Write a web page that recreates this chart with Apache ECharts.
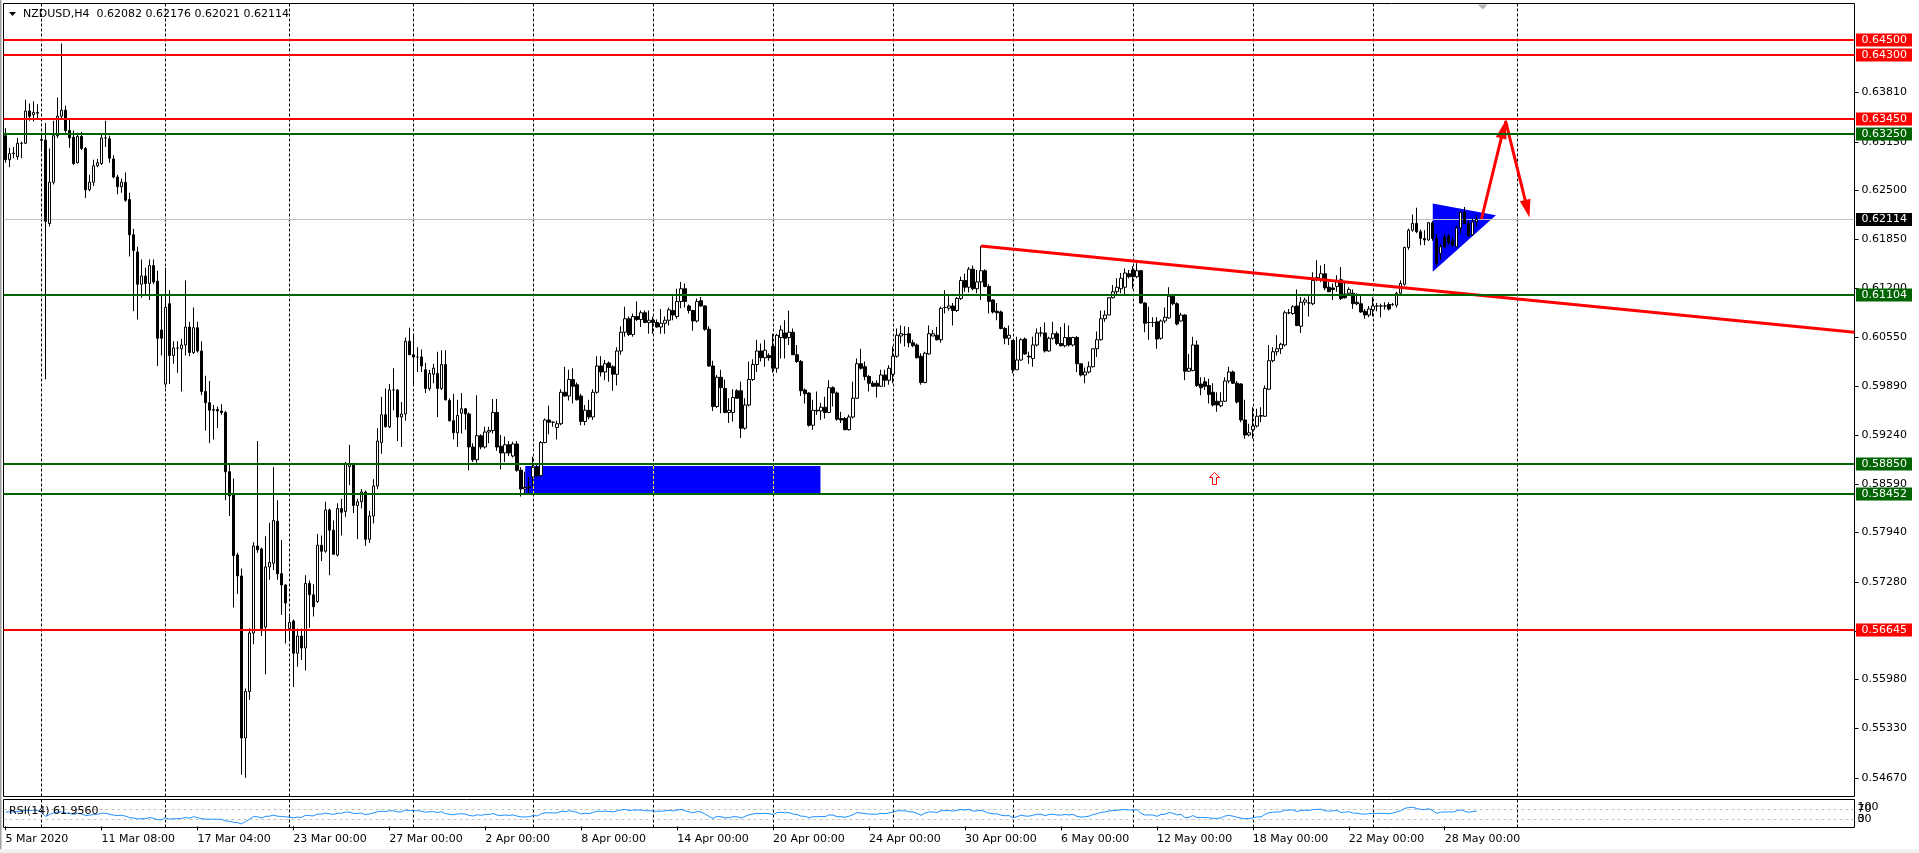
<!DOCTYPE html>
<html><head><meta charset="utf-8"><title>NZDUSD,H4</title>
<script src="https://cdn.jsdelivr.net/npm/echarts@6/dist/echarts.min.js"></script>
<style>html,body{margin:0;padding:0;background:#fff;overflow:hidden}#chart{width:1919px;height:853px}</style>
</head><body><div id="chart"></div>
<script>
// ---------------- data (prices in 1e-4 units) ----------------
const symbolName = 'NZDUSD,H4';
const openP = [
6323,6291,6299,6295,6313,6313,6356,6351,6354,6318,6317,6206,6261,6323,6349,6357,6330,6321,6287,6322,
6306,6251,6261,6283,6286,6320,6319,6292,6268,6255,6261,6238,6191,6168,6125,6136,6126,6150,6129,6064,
5992,6099,6030,6040,6039,6044,6068,6034,6067,6036,5982,5967,5957,5958,5956,5954,5875,5844,5764,5736,
5520,5582,5660,5776,5772,5668,5748,5753,5809,5739,5724,5666,5676,5633,5656,5640,5726,5711,5702,5777,
5769,5824,5797,5764,5826,5822,5882,5885,5830,5835,5848,5785,5816,5856,5914,5951,5935,5984,5984,5948,
5952,6049,6031,6028,6028,6011,5986,6005,6006,5986,6018,5970,5943,5927,5953,5959,5952,5908,5891,5923,
5908,5928,5930,5954,5909,5900,5911,5896,5912,5877,5852,5854,5868,5881,5870,5914,5944,5941,5934,5939,
5981,5976,5998,5991,5976,5942,5957,5948,5981,6016,6008,6020,6015,6005,6036,6061,6079,6058,6082,6078,
6087,6074,6077,6074,6068,6073,6077,6090,6082,6102,6119,6096,6090,6076,6103,6096,6065,6016,5962,6001,
5986,5954,5954,5983,5983,5933,5964,5998,6018,6036,6027,6030,6042,6013,6054,6060,6054,6061,6031,6022,
5984,5980,5937,5957,5956,5961,5954,5987,5980,5946,5946,5931,5948,5973,6019,6015,6002,5993,5993,5989,
6004,5997,6005,6029,6056,6058,6059,6047,6044,6029,5994,6032,6056,6057,6051,6094,6093,6096,6090,6106,
6130,6121,6145,6119,6128,6143,6122,6104,6089,6088,6066,6053,6050,6011,6024,6052,6029,6026,6044,6060,
6060,6036,6053,6059,6046,6043,6054,6044,6054,6019,6004,6008,6015,6039,6051,6079,6084,6107,6115,6119,
6121,6139,6144,6135,6143,6100,6074,6074,6075,6053,6076,6080,6109,6099,6076,6084,6009,6010,6044,5992,
5995,5990,5981,5969,5963,5969,5996,6008,5993,5992,5944,5924,5931,5936,5949,5949,5985,6023,6035,6039,
6044,6087,6086,6096,6069,6101,6100,6099,6134,6132,6139,6121,6120,6122,6131,6112,6113,6113,6101,6099,
6089,6084,6091,6096,6096,6096,6098,6098,6097,6113,6125,6174,6197,6206,6195,6186,6184,6207,6186,6166,
6188,6189,6183,6175,6200,6221,6206,6191,6208.2];
const highP = [
6333,6307,6308,6320,6315,6371,6366,6369,6365,6327,6340,6306,6343,6374,6446,6363,6346,6330,6327,6328,
6308,6271,6291,6292,6325,6343,6323,6297,6271,6266,6274,6247,6199,6175,6158,6147,6158,6158,6143,6111,
6147,6117,6049,6049,6052,6130,6075,6094,6075,6049,6003,5996,5964,5962,5965,5956,5885,5866,5767,5746,
5586,5666,5781,5916,5774,5789,5807,5881,5837,5784,5725,5682,5678,5666,5666,5737,5730,5725,5792,5790,
5835,5826,5810,5833,5839,5888,5911,5887,5839,5852,5850,5823,5865,5933,5975,5986,5992,6013,5985,5968,
6054,6067,6059,6041,6038,6020,6011,6019,6035,6037,6037,5973,5979,5971,5980,5960,5954,5913,5977,5925,
5935,5935,5972,5972,5924,5922,5916,5915,5916,5881,5875,5868,5895,5886,5916,5946,5963,5942,5943,5985,
6015,6011,6013,5994,5979,5964,5971,5985,6029,6029,6024,6022,6017,6041,6069,6095,6082,6086,6102,6090,
6090,6090,6082,6078,6092,6082,6094,6109,6119,6128,6126,6098,6091,6106,6108,6097,6069,6023,6004,6011,
5998,5973,5985,5985,5995,5973,6022,6025,6051,6046,6051,6033,6059,6059,6070,6077,6090,6066,6044,6024,
5986,5981,5971,5982,5967,5975,5997,5989,5982,5955,5948,5951,5995,6026,6039,6022,6004,5996,5997,6011,
6011,6017,6042,6066,6070,6069,6068,6051,6046,6033,6035,6070,6064,6068,6095,6117,6109,6100,6108,6135,
6139,6148,6150,6144,6176,6145,6125,6105,6100,6090,6068,6070,6051,6055,6053,6054,6035,6055,6066,6068,
6074,6055,6075,6062,6068,6073,6070,6055,6056,6019,6014,6022,6039,6062,6090,6090,6108,6124,6133,6140,
6146,6144,6149,6153,6144,6101,6095,6081,6081,6078,6094,6121,6112,6101,6087,6085,6032,6055,6050,6001,
6001,5999,5993,5981,5981,6001,6015,6010,5996,5993,5971,5939,5961,5959,5961,5990,6044,6041,6057,6047,
6090,6092,6097,6118,6108,6107,6109,6141,6157,6150,6152,6128,6126,6137,6148,6128,6121,6118,6113,6110,
6092,6096,6108,6100,6099,6101,6101,6100,6115,6130,6175,6199,6218,6227,6198,6197,6208,6209,6192,6179,
6192,6192,6188,6203,6223,6228,6210,6212,6217.6];
const lowP = [
6287,6281,6293,6291,6293,6312,6343,6342,6346,6304,5998,6202,6258,6320,6346,6327,6307,6284,6286,6304,
6240,6249,6256,6281,6284,6308,6287,6266,6245,6247,6235,6162,6089,6078,6107,6111,6104,6125,6016,6030,
5987,5992,6019,6007,5982,6030,6029,6032,6034,5977,5930,5913,5918,5933,5951,5837,5816,5694,5712,5471,
5467,5571,5645,5767,5656,5605,5731,5744,5731,5684,5646,5650,5588,5615,5624,5610,5667,5682,5700,5756,
5767,5737,5764,5762,5790,5815,5857,5820,5785,5826,5776,5780,5806,5852,5899,5934,5933,5957,5916,5908,
5943,6031,5992,6008,6008,5980,5983,5993,5948,5984,5970,5942,5918,5908,5926,5931,5877,5888,5887,5905,
5906,5913,5926,5903,5878,5888,5896,5894,5875,5842,5846,5844,5855,5868,5868,5913,5925,5935,5918,5937,
5975,5970,5966,5970,5937,5937,5945,5944,5979,6002,5997,5995,5983,5990,6031,6055,6056,6055,6076,6068,
6073,6059,6059,6067,6059,6059,6070,6077,6079,6093,6094,6086,6063,6074,6095,6063,6015,5956,5960,5953,
5953,5940,5942,5972,5920,5931,5962,5996,6008,6022,6015,6023,6007,6007,6026,6026,6044,6031,6020,5976,
5966,5935,5931,5951,5944,5946,5953,5962,5943,5940,5931,5930,5946,5972,6011,5997,5982,5988,5974,5988,
5988,5991,5993,6027,6046,6042,6041,6041,6026,5991,5993,6031,6056,6050,6047,6086,6090,6070,6088,6104,
6115,6114,6117,6113,6104,6121,6086,6086,6077,6065,6045,6044,6006,6011,6023,6031,6019,6015,6042,6055,
6034,6035,6051,6044,6042,6041,6042,6042,6008,6002,5993,6006,6014,6028,6050,6075,6084,6106,6112,6113,
6112,6133,6119,6133,6099,6061,6051,6068,6039,6051,6073,6079,6097,6070,6075,5997,6008,6009,5988,5977,
5984,5966,5962,5955,5961,5968,5993,5992,5966,5941,5919,5922,5919,5934,5941,5948,5984,6021,6030,6032,
6042,6085,6084,6069,6060,6097,6082,6097,6129,6128,6117,6115,6104,6115,6104,6106,6112,6092,6097,6087,
6079,6081,6082,6089,6081,6091,6090,6096,6094,6112,6123,6171,6195,6193,6177,6177,6183,6183,6149,6157,
6174,6177,6175,6174,6192,6205,6188,6190,6202.1];
const closeP = [
6291,6299,6300,6313,6313,6356,6349,6354,6353,6317,6209,6261,6323,6349,6357,6330,6320,6286,6322,6306,
6251,6261,6283,6287,6320,6320,6293,6268,6255,6261,6237,6191,6170,6125,6136,6126,6150,6128,6053,6053,
6094,6030,6040,6040,6044,6068,6034,6067,6036,5982,5967,5957,5958,5956,5954,5875,5843,5763,5736,5520,
5582,5660,5776,5771,5666,5748,5754,5810,5739,5724,5700,5674,5633,5656,5640,5726,5711,5695,5777,5769,
5824,5797,5765,5826,5821,5885,5885,5830,5835,5848,5785,5816,5856,5916,5951,5935,5984,5984,5948,5952,
6049,6031,6028,6028,6016,5986,6006,6013,5986,6018,5971,5943,5927,5950,5959,5952,5908,5891,5923,5908,
5928,5930,5954,5908,5900,5911,5900,5912,5877,5852,5854,5855,5881,5870,5914,5944,5941,5941,5939,5981,
5976,5998,5989,5971,5942,5957,5948,5981,6016,6008,6019,6014,6005,6036,6061,6079,6058,6082,6078,6087,
6074,6077,6074,6068,6073,6077,6091,6084,6102,6119,6102,6090,6076,6102,6096,6065,6016,5962,6001,5987,
5954,5957,5974,5973,5933,5964,5998,6018,6036,6027,6037,6027,6013,6057,6064,6053,6061,6031,6022,5983,
5979,5937,5957,5956,5961,5954,5987,5980,5945,5944,5931,5948,5973,6019,6013,6002,5993,5989,5989,6004,
5997,6013,6029,6057,6059,6058,6047,6043,6027,5994,6033,6059,6059,6051,6093,6094,6096,6090,6106,6130,
6121,6145,6119,6128,6143,6122,6102,6088,6087,6066,6053,6057,6011,6024,6051,6032,6028,6044,6060,6060,
6036,6053,6059,6046,6043,6054,6044,6054,6019,6004,6008,6015,6039,6051,6079,6084,6107,6115,6121,6133,
6140,6135,6135,6143,6100,6073,6074,6074,6052,6076,6081,6109,6099,6072,6084,6009,6013,6044,5990,5987,
5989,5978,5964,5964,5969,5996,6008,5993,5968,5944,5924,5927,5936,5949,5950,5986,6023,6035,6039,6045,
6087,6087,6095,6070,6101,6104,6100,6130,6131,6139,6120,6115,6118,6130,6106,6107,6118,6099,6099,6088,
6084,6092,6096,6096,6096,6096,6092,6098,6113,6126,6174,6197,6206,6195,6186,6184,6207,6186,6153,6175,
6175,6180,6177,6200,6221,6206,6190,6208,6211.4];

const xLabels = ['5 Mar 2020','11 Mar 08:00','17 Mar 04:00','23 Mar 00:00','27 Mar 00:00','2 Apr 00:00',
  '8 Apr 00:00','14 Apr 00:00','20 Apr 00:00','24 Apr 00:00','30 Apr 00:00','6 May 00:00','12 May 00:00',
  '18 May 00:00','22 May 00:00','28 May 00:00'];
const xLabelBars = [0,24,48,72,96,120,144,168,192,216,240,264,288,312,336,360];
const gridBars = [9,40,71,102,132,162,192,222,252,282,312,342,378];
const priceTicks = [0.63810,0.63150,0.62500,0.61850,0.61200,0.60550,0.59890,0.59240,0.58590,0.57940,0.57280,0.56630,0.55980,0.55330,0.54670];
const levelPrices = [0.64500,0.64300,0.63450,0.63250,0.61104,0.58850,0.58452,0.56645];
const levelKinds  = ['r','r','r','g','g','g','g','r'];
const currentPrice = 0.62114;
const rsiTicks = [100,70,30,0];
const rsiLevels = [70,30];
const rsiText = 'RSI(14) 61.9560';
// drawn objects (bar index, price)
const zoneBars = [130, 203.85];
const zonePrices = [0.58827, 0.58460];
const triBars = [357, 357, 372.8];
const triPrices = [0.62325, 0.61415, 0.62170];
const trendBars = [244, 462.5];
const trendPrices = [0.61760, 0.60610];
const arrowBars = [369.2, 375.2, 381.2];
const arrowPrices = [0.62120, 0.63430, 0.62140];
const markBar = 302.4, markPrice = 0.58660;
const shiftBar = 369.5;

// ---------------- build ----------------
const FONT = '"DejaVu Sans", Verdana, sans-serif';
const F11 = '11px ' + FONT;
const GREEN = '#006400', RED = '#ff0000';
const COLORS = {r: RED, g: GREEN};
const CAT = 463;
const yMax = 0.64993, yMin = 0.54420;
const P = v => v / 1e4;
const N = openP.length;
const cats = Array.from({length: CAT}, (_, i) => String(i));
const candleData = openP.map((o, i) => [P(o), P(closeP[i]), P(lowP[i]), P(highP[i])]);
const labelMap = {}; xLabelBars.forEach((b, i) => labelMap[b] = xLabels[i]);

// RSI(14), Wilder smoothing, computed from the closes
function rsi(cl, n) {
  const ch = []; for (let i = 1; i < cl.length; i++) ch.push(cl[i] - cl[i - 1]);
  let ag = 0, al = 0;
  for (let i = 0; i < n; i++) { const d = ch[i]; if (d > 0) ag += d; else al -= d; }
  ag /= n; al /= n;
  const out = [al === 0 ? 100 : 100 - 100 / (1 + ag / al)];
  for (let i = 0; i < ch.length; i++) {
    const d = ch[i];
    ag = (ag * (n - 1) + Math.max(d, 0)) / n;
    al = (al * (n - 1) + Math.max(-d, 0)) / n;
    out.push(al === 0 ? 100 : 100 - 100 / (1 + ag / al));
  }
  return out;
}
const rsiData = rsi(closeP, 14);

function txt(x, y, s, fill, align) {
  return {type: 'text', x: x, y: y, style: {text: s, fill: fill || '#000', font: F11,
    align: align || 'left', verticalAlign: 'middle', textAlign: align || 'left', textVerticalAlign: 'middle'}};
}

const series = [];
const base = {type: 'custom', coordinateSystem: 'cartesian2d', silent: true, animation: false};

// vertical dotted grid (main)
series.push(Object.assign({}, base, {xAxisIndex: 2, yAxisIndex: 0, z: 1,
  data: gridBars.map(b => [b, yMax]),
  renderItem(params, api) {
    const cs = params.coordSys;
    const x = Math.round(api.coord([api.value(0), yMax])[0]) + 0.5;
    return {type: 'line', shape: {x1: x, y1: cs.y, x2: x, y2: cs.y + cs.height},
      style: {stroke: '#000', lineWidth: 1, lineDash: [3, 2]}};
  }}));
// blue zone rectangle
series.push(Object.assign({}, base, {xAxisIndex: 2, yAxisIndex: 0, z: 2, data: [[zoneBars[0], zonePrices[0]]],
  renderItem(params, api) {
    const a = api.coord([zoneBars[0], zonePrices[0]]), b = api.coord([zoneBars[1], zonePrices[1]]);
    const ch = [{type: 'rect', shape: {x: a[0], y: a[1], width: b[0] - a[0], height: b[1] - a[1]}, style: {fill: '#0000ff'}}];
    gridBars.forEach(g => {
      if (g > zoneBars[0] && g < zoneBars[1]) {
        const x = Math.round(api.coord([g, yMax])[0]) + 0.5;
        ch.push({type: 'line', shape: {x1: x, y1: a[1], x2: x, y2: b[1]}, style: {stroke: '#ffff00', lineWidth: 1, lineDash: [3, 2]}});
      }
    });
    return {type: 'group', children: ch};
  }}));
// blue triangle
series.push(Object.assign({}, base, {xAxisIndex: 2, yAxisIndex: 0, z: 2, data: [[triBars[0], triPrices[0]]],
  renderItem(params, api) {
    const pts = triBars.map((b, i) => api.coord([b, triPrices[i]]));
    return {type: 'polygon', shape: {points: pts}, style: {fill: '#0000ff'}};
  }}));
// current price line
series.push(Object.assign({}, base, {xAxisIndex: 2, yAxisIndex: 0, z: 3, data: [[0, currentPrice]],
  renderItem(params, api) {
    const cs = params.coordSys;
    const y = Math.round(api.coord([0, currentPrice])[1]) + 0.5;
    return {type: 'line', shape: {x1: cs.x, y1: y, x2: cs.x + cs.width, y2: y}, style: {stroke: '#c0c0c0', lineWidth: 1}};
  }}));
// candles
series.push({type: 'candlestick', xAxisIndex: 0, yAxisIndex: 0, z: 5, silent: true, animation: false,
  barWidth: 3, data: candleData,
  itemStyle: {color: '#ffffff', color0: '#000000', borderColor: '#000000', borderColor0: '#000000',
    borderColorDoji: '#000000', borderWidth: 1}});
// trend line
series.push(Object.assign({}, base, {xAxisIndex: 2, yAxisIndex: 0, z: 6, clip: true, data: [[trendBars[0], trendPrices[0]]],
  renderItem(params, api) {
    const a = api.coord([trendBars[0], trendPrices[0]]), b = api.coord([trendBars[1], trendPrices[1]]);
    return {type: 'line', shape: {x1: a[0], y1: a[1], x2: b[0], y2: b[1]}, style: {stroke: RED, lineWidth: 3}};
  }}));
// red arrows
series.push(Object.assign({}, base, {xAxisIndex: 2, yAxisIndex: 0, z: 6, data: [[arrowBars[0], arrowPrices[0]]],
  renderItem(params, api) {
    const pts = arrowBars.map((b, i) => api.coord([b, arrowPrices[i]]));
    const ch = [];
    for (let s = 0; s < pts.length - 1; s++) {
      const a = pts[s], b = pts[s + 1];
      const dx = b[0] - a[0], dy = b[1] - a[1], L = Math.hypot(dx, dy), ux = dx / L, uy = dy / L;
      const hl = 18, hw = 5.5;
      const bs = [b[0] - ux * hl, b[1] - uy * hl];
      ch.push({type: 'line', shape: {x1: a[0], y1: a[1], x2: bs[0] + ux * 2, y2: bs[1] + uy * 2}, style: {stroke: RED, lineWidth: 3}});
      ch.push({type: 'polygon', shape: {points: [b, [bs[0] - uy * hw, bs[1] + ux * hw], [bs[0] + uy * hw, bs[1] - ux * hw]]}, style: {fill: RED}});
    }
    return {type: 'group', children: ch};
  }}));
// hollow up-arrow marker
series.push(Object.assign({}, base, {xAxisIndex: 2, yAxisIndex: 0, z: 6, data: [[markBar, markPrice]],
  renderItem(params, api) {
    const c = api.coord([markBar, markPrice]);
    const x = Math.round(c[0]) + 0.5, y = Math.round(c[1]) + 0.5;
    const rel = [[0, -6], [5, -1], [2, -1], [2, 6], [-2, 6], [-2, -1], [-5, -1]];
    return {type: 'polygon', shape: {points: rel.map(p => [x + p[0], y + p[1]])}, style: {fill: '#fff', stroke: RED, lineWidth: 1}};
  }}));
// price axis ticks + labels
series.push(Object.assign({}, base, {xAxisIndex: 2, yAxisIndex: 0, z: 7, data: priceTicks.map(p => [0, p]),
  renderItem(params, api) {
    const cs = params.coordSys, xr = cs.x + cs.width;
    const p = priceTicks[params.dataIndex];
    const y = Math.round(api.coord([0, p])[1]) + 0.5;
    return {type: 'group', children: [
      {type: 'line', shape: {x1: xr, y1: y, x2: xr + 4, y2: y}, style: {stroke: '#000', lineWidth: 1}},
      txt(xr + 7, y, p.toFixed(5))]};
  }}));
// horizontal levels with price boxes
series.push(Object.assign({}, base, {xAxisIndex: 2, yAxisIndex: 0, z: 8, data: levelPrices.map(p => [0, p]),
  renderItem(params, api) {
    const cs = params.coordSys, xr = cs.x + cs.width;
    const i = params.dataIndex, p = levelPrices[i], col = COLORS[levelKinds[i]];
    const y = Math.round(api.coord([0, p])[1]);
    return {type: 'group', children: [
      {type: 'line', shape: {x1: cs.x, y1: y, x2: xr, y2: y}, style: {stroke: col, lineWidth: 2}},
      {type: 'rect', shape: {x: xr + 1.5, y: y - 6.5, width: 56, height: 13}, style: {fill: col}},
      txt(xr + 7, y, p.toFixed(5), '#fff')]};
  }}));
// current price box + chart shift marker
series.push(Object.assign({}, base, {xAxisIndex: 2, yAxisIndex: 0, z: 8, data: [[0, currentPrice]],
  renderItem(params, api) {
    const cs = params.coordSys, xr = cs.x + cs.width;
    const y = Math.round(api.coord([0, currentPrice])[1]) + 0.5;
    const sx = api.coord([shiftBar, yMax])[0];
    return {type: 'group', children: [
      {type: 'rect', shape: {x: xr + 1.5, y: y - 6.5, width: 56, height: 13}, style: {fill: '#000'}},
      txt(xr + 7, y, currentPrice.toFixed(5), '#fff'),
      {type: 'polygon', shape: {points: [[sx - 5, cs.y + 1], [sx + 5, cs.y + 1], [sx, cs.y + 6]]}, style: {fill: '#b4b4b4'}}]};
  }}));
// RSI panel: dotted grid
series.push(Object.assign({}, base, {xAxisIndex: 3, yAxisIndex: 1, z: 1,
  data: gridBars.map(b => [b, 50]),
  renderItem(params, api) {
    const cs = params.coordSys;
    const x = Math.round(api.coord([api.value(0), 50])[0]) + 0.5;
    return {type: 'line', shape: {x1: x, y1: cs.y, x2: x, y2: cs.y + cs.height},
      style: {stroke: '#000', lineWidth: 1, lineDash: [3, 2]}};
  }}));
// RSI line
series.push({type: 'line', xAxisIndex: 1, yAxisIndex: 1, z: 5, silent: true, animation: false,
  data: rsiData, showSymbol: false, symbol: 'none',
  lineStyle: {color: '#1e90ff', width: 1},
  markLine: {silent: true, symbol: 'none', animation: false, label: {show: false},
    lineStyle: {color: '#c0c0c0', type: [3, 3], width: 1},
    data: rsiLevels.map(v => ({yAxis: v}))}});
// RSI axis labels
series.push(Object.assign({}, base, {xAxisIndex: 3, yAxisIndex: 1, z: 7, data: rsiTicks.map(v => [0, v]),
  renderItem(params, api) {
    const cs = params.coordSys, xr = cs.x + cs.width;
    const v = rsiTicks[params.dataIndex];
    const y = Math.min(Math.max(api.coord([0, v])[1], cs.y + 8), cs.y + cs.height - 8);
    return txt(xr + 3, y, String(v));
  }}));

const last = N - 1;
const header = symbolName + '  ' + [openP[last], highP[last], lowP[last], closeP[last]].map(v => P(v).toFixed(5)).join(' ');

const labelInterval = (idx) => labelMap[idx] !== undefined;
const option = {
  animation: false,
  backgroundColor: '#ffffff',
  grid: [
    {left: 3.5, top: 3.5, width: 1851, height: 793, show: true, borderColor: '#000', borderWidth: 1, backgroundColor: 'transparent'},
    {left: 3.5, top: 799.5, width: 1851, height: 28, show: true, borderColor: '#000', borderWidth: 1, backgroundColor: 'transparent'}
  ],
  xAxis: [
    {type: 'category', gridIndex: 0, data: cats, show: false, boundaryGap: true},
    {type: 'category', gridIndex: 1, data: cats, boundaryGap: true,
      axisLine: {show: false}, splitLine: {show: false},
      axisTick: {show: true, interval: labelInterval, alignWithLabel: true, length: 4, lineStyle: {color: '#000', width: 1}},
      axisLabel: {show: true, interval: labelInterval, formatter: (v, idx) => labelMap[idx] || '',
        align: 'left', margin: 6, color: '#000', fontSize: 11, fontFamily: 'DejaVu Sans'}},
    {type: 'value', gridIndex: 0, min: -0.5, max: CAT - 0.5, show: false},
    {type: 'value', gridIndex: 1, min: -0.5, max: CAT - 0.5, show: false}
  ],
  yAxis: [
    {type: 'value', gridIndex: 0, min: yMin, max: yMax, show: false, scale: true},
    {type: 'value', gridIndex: 1, min: -5, max: 111, show: false}
  ],
  graphic: [
    {type: 'rect', shape: {x: 0, y: 0, width: 1.5, height: 853}, style: {fill: '#a0a0a0'}, silent: true},
    {type: 'rect', shape: {x: 0, y: 849, width: 1919, height: 4}, style: {fill: '#f0f0f0'}, silent: true},
    {type: 'polygon', shape: {points: [[9, 12], [16, 12], [12.5, 16]]}, style: {fill: '#000'}, silent: true},
    {type: 'text', x: 23, y: 14.5, silent: true, style: {text: header, fill: '#000', font: F11, verticalAlign: 'middle', textVerticalAlign: 'middle'}},
    {type: 'text', x: 9, y: 811.5, silent: true, z: 100, style: {text: rsiText, fill: '#000', font: F11, verticalAlign: 'middle', textVerticalAlign: 'middle'}}
  ],
  series: series
};
const chart = echarts.init(document.getElementById('chart'), null, {renderer: 'canvas'});
chart.setOption(option);
</script></body></html>
